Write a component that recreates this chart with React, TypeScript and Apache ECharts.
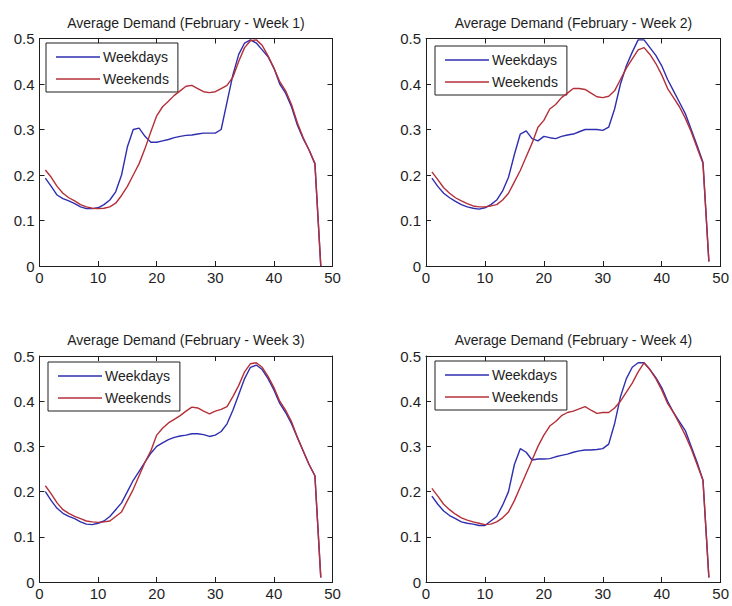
import React, { useEffect, useRef } from "react";
import * as echarts from "echarts";

// Half-hour slot index (1..48)
const SLOTS = [
  1, 2, 3, 4, 5, 6, 7, 8, 9, 10, 11, 12, 13, 14, 15, 16, 17, 18, 19, 20, 21, 22, 23, 24,
  25, 26, 27, 28, 29, 30, 31, 32, 33, 34, 35, 36, 37, 38, 39, 40, 41, 42, 43, 44, 45, 46, 47, 48,
];

const TITLES = [
  "Average Demand (February - Week 1)",
  "Average Demand (February - Week 2)",
  "Average Demand (February - Week 3)",
  "Average Demand (February - Week 4)",
];

const SERIES_NAMES = ["Weekdays", "Weekends"];

const X_TICKS = [0, 10, 20, 30, 40, 50];
const Y_TICKS = [0, 0.1, 0.2, 0.3, 0.4, 0.5];

const WEEK1_WEEKDAYS = [
  0.193, 0.175, 0.156, 0.148, 0.143, 0.137, 0.130, 0.126, 0.126, 0.128, 0.135, 0.145,
  0.163, 0.200, 0.262, 0.300, 0.303, 0.285, 0.272, 0.272, 0.275, 0.278, 0.282, 0.285,
  0.287, 0.288, 0.290, 0.292, 0.292, 0.292, 0.300, 0.360, 0.420, 0.465, 0.490, 0.497,
  0.490, 0.475, 0.460, 0.435, 0.400, 0.380, 0.350, 0.310, 0.280, 0.255, 0.225, 0.000,
];
const WEEK1_WEEKENDS = [
  0.211, 0.195, 0.175, 0.160, 0.150, 0.143, 0.135, 0.130, 0.127, 0.126, 0.127, 0.130,
  0.138, 0.155, 0.175, 0.200, 0.225, 0.258, 0.295, 0.330, 0.350, 0.362, 0.375, 0.385,
  0.395, 0.397, 0.390, 0.383, 0.381, 0.383, 0.390, 0.397, 0.415, 0.450, 0.480, 0.495,
  0.497, 0.485, 0.462, 0.435, 0.405, 0.385, 0.355, 0.315, 0.282, 0.255, 0.225, 0.000,
];

const WEEK2_WEEKDAYS = [
  0.193, 0.175, 0.160, 0.150, 0.142, 0.135, 0.130, 0.127, 0.125, 0.128, 0.135, 0.145,
  0.165, 0.195, 0.245, 0.290, 0.297, 0.280, 0.275, 0.285, 0.282, 0.280, 0.285, 0.288,
  0.290, 0.295, 0.300, 0.300, 0.300, 0.298, 0.305, 0.345, 0.400, 0.440, 0.470, 0.497,
  0.497, 0.480, 0.463, 0.440, 0.410, 0.385, 0.360, 0.335, 0.300, 0.265, 0.228, 0.010,
];
const WEEK2_WEEKENDS = [
  0.207, 0.190, 0.172, 0.160, 0.150, 0.143, 0.137, 0.132, 0.130, 0.130, 0.132, 0.135,
  0.145, 0.160, 0.185, 0.210, 0.240, 0.270, 0.305, 0.320, 0.345, 0.355, 0.370, 0.380,
  0.390, 0.390, 0.388, 0.380, 0.372, 0.370, 0.373, 0.385, 0.410, 0.435, 0.455, 0.475,
  0.480, 0.465, 0.445, 0.420, 0.390, 0.370, 0.350, 0.325, 0.295, 0.260, 0.225, 0.010,
];

const WEEK3_WEEKDAYS = [
  0.200, 0.180, 0.163, 0.152, 0.145, 0.140, 0.133, 0.128, 0.127, 0.130, 0.135, 0.145,
  0.160, 0.175, 0.200, 0.225, 0.245, 0.265, 0.285, 0.300, 0.308, 0.315, 0.320, 0.323,
  0.325, 0.328, 0.328, 0.326, 0.322, 0.325, 0.333, 0.350, 0.380, 0.415, 0.450, 0.475,
  0.480, 0.470, 0.450, 0.425, 0.395, 0.375, 0.350, 0.320, 0.290, 0.260, 0.235, 0.010,
];
const WEEK3_WEEKENDS = [
  0.213, 0.195, 0.175, 0.160, 0.152, 0.145, 0.140, 0.135, 0.133, 0.132, 0.133, 0.135,
  0.145, 0.155, 0.180, 0.205, 0.235, 0.265, 0.290, 0.325, 0.340, 0.352, 0.360, 0.368,
  0.378, 0.387, 0.385, 0.378, 0.372, 0.378, 0.382, 0.388, 0.410, 0.435, 0.465, 0.483,
  0.485, 0.475, 0.455, 0.430, 0.400, 0.380, 0.355, 0.320, 0.290, 0.260, 0.235, 0.010,
];

const WEEK4_WEEKDAYS = [
  0.190, 0.172, 0.157, 0.147, 0.140, 0.133, 0.130, 0.128, 0.125, 0.125, 0.135, 0.145,
  0.170, 0.200, 0.260, 0.295, 0.287, 0.270, 0.272, 0.272, 0.273, 0.277, 0.280, 0.283,
  0.287, 0.290, 0.292, 0.292, 0.293, 0.295, 0.305, 0.350, 0.410, 0.450, 0.475, 0.485,
  0.485, 0.470, 0.452, 0.430, 0.400, 0.375, 0.355, 0.335, 0.300, 0.265, 0.225, 0.010,
];
const WEEK4_WEEKENDS = [
  0.207, 0.190, 0.172, 0.160, 0.150, 0.142, 0.137, 0.133, 0.130, 0.127, 0.128, 0.133,
  0.142, 0.155, 0.180, 0.210, 0.240, 0.270, 0.300, 0.325, 0.345, 0.355, 0.368, 0.375,
  0.378, 0.383, 0.388, 0.380, 0.373, 0.375, 0.375, 0.385, 0.400, 0.420, 0.440, 0.465,
  0.485, 0.470, 0.450, 0.425, 0.395, 0.375, 0.350, 0.325, 0.295, 0.260, 0.225, 0.010,
];

const PANELS = [
  [WEEK1_WEEKDAYS, WEEK1_WEEKENDS],
  [WEEK2_WEEKDAYS, WEEK2_WEEKENDS],
  [WEEK3_WEEKDAYS, WEEK3_WEEKENDS],
  [WEEK4_WEEKDAYS, WEEK4_WEEKENDS],
];

const COLORS = ["#2e2eb0", "#b52f38"];
const FONT = "'Liberation Sans', Arial, sans-serif";
const INK = "#1e1e1e";

// plot boxes in pixels
const GRIDS = [
  { left: 39.5, top: 38.5, width: 293, height: 227.5 },
  { left: 426, top: 38.5, width: 295, height: 227.5 },
  { left: 39.5, top: 356, width: 293, height: 226 },
  { left: 426, top: 356, width: 295, height: 226 },
];
const LEGEND_POS = [
  { left: 46, top: 43 },
  { left: 435, top: 46 },
  { left: 48, top: 362 },
  { left: 435, top: 361 },
];

// thin horizontal stroke used as the legend key
const LEGEND_KEY = "path://M0,0 L44,0 L44,1.4 L0,1.4 Z";

function buildOption() {
  const xAxis: any[] = [];
  const yAxis: any[] = [];
  const series: any[] = [];
  const title: any[] = [];
  const legend: any[] = [];

  const lineStyle = { color: INK, width: 1 };
  const tickIn = { show: true, inside: true, length: 5, lineStyle };

  GRIDS.forEach((g, i) => {
    const xMain = {
      type: "value",
      gridIndex: i,
      min: X_TICKS[0],
      max: X_TICKS[X_TICKS.length - 1],
      interval: X_TICKS[1] - X_TICKS[0],
      position: "bottom",
      axisLine: { show: true, onZero: false, lineStyle },
      axisTick: tickIn,
      splitLine: { show: false },
      axisLabel: { color: INK, fontSize: 15, fontFamily: FONT, margin: 4 },
    };
    const xTop = {
      ...xMain,
      position: "top",
      axisLabel: { show: false },
    };
    const yMain = {
      type: "value",
      gridIndex: i,
      min: Y_TICKS[0],
      max: Y_TICKS[Y_TICKS.length - 1],
      interval: Y_TICKS[1] - Y_TICKS[0],
      position: "left",
      axisLine: { show: true, onZero: false, lineStyle },
      axisTick: tickIn,
      splitLine: { show: false },
      axisLabel: { color: INK, fontSize: 15, fontFamily: FONT, margin: 5 },
    };
    const yRight = {
      ...yMain,
      position: "right",
      axisLabel: { show: false },
    };
    xAxis.push(xMain, xTop);
    yAxis.push(yMain, yRight);

    title.push({
      text: TITLES[i],
      left: g.left + g.width / 2,
      top: g.top - 23,
      textAlign: "center",
      padding: 0,
      textStyle: { color: INK, fontSize: 14, fontWeight: "normal", fontFamily: FONT },
    });

    legend.push({
      data: SERIES_NAMES.map((name) => ({ name, icon: LEGEND_KEY })),
      orient: "vertical",
      left: LEGEND_POS[i].left,
      top: LEGEND_POS[i].top,
      padding: [7, 9, 6, 10],
      itemWidth: 44,
      itemHeight: 14,
      itemGap: 8,
      symbolKeepAspect: true,
      borderColor: INK,
      borderWidth: 1,
      backgroundColor: "#ffffff",
      borderRadius: 0,
      selectedMode: false,
      textStyle: { color: INK, fontSize: 14, fontFamily: FONT, padding: [0, 0, 0, -2] },
    });

    PANELS[i].forEach((vals, k) => {
      series.push({
        name: SERIES_NAMES[k],
        type: "line",
        xAxisIndex: i * 2,
        yAxisIndex: i * 2,
        data: SLOTS.map((s, j) => [s, vals[j]]),
        symbol: "none",
        showSymbol: false,
        smooth: false,
        lineStyle: { color: COLORS[k], width: 1.4 },
        itemStyle: { color: COLORS[k] },
        z: 3 + k,
      });
    });
  });

  return {
    animation: false,
    backgroundColor: "#ffffff",
    grid: GRIDS.map((g) => ({ ...g, containLabel: false })),
    title,
    legend,
    xAxis,
    yAxis,
    series,
  };
}

export default function App() {
  const ref = useRef<HTMLDivElement>(null);

  useEffect(() => {
    document.body.style.margin = "0";
    if (!ref.current) return;
    const chart = echarts.init(ref.current, undefined, { renderer: "svg" });
    chart.setOption(buildOption() as any);
    return () => chart.dispose();
  }, []);

  return <div ref={ref} style={{ width: 732, height: 606 }} />;
}
